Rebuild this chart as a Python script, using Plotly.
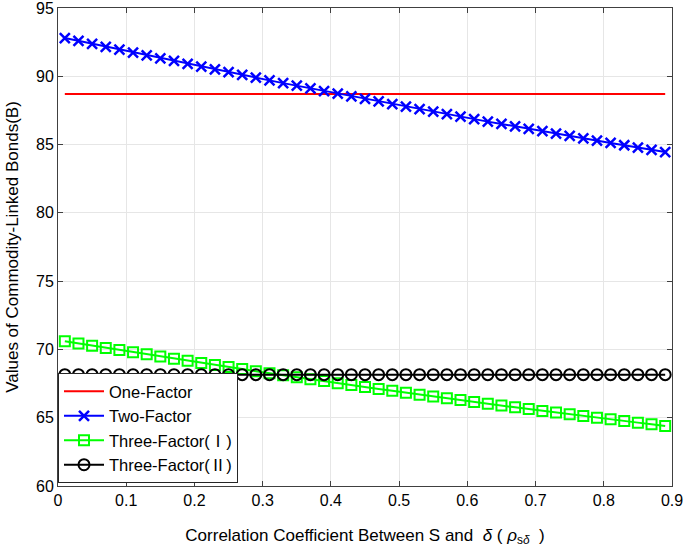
import plotly.graph_objects as go

rho = [round(0.01 + 0.02 * i, 2) for i in range(45)]

one_factor = [88.7] * 45
two_factor = [92.80, 92.59, 92.37, 92.16, 91.95, 91.74, 91.53, 91.32, 91.12, 90.91,
              90.71, 90.50, 90.30, 90.10, 89.90, 89.70, 89.50, 89.31, 89.11, 88.92,
              88.73, 88.53, 88.34, 88.16, 87.97, 87.78, 87.59, 87.41, 87.23, 87.04,
              86.86, 86.68, 86.51, 86.33, 86.15, 85.98, 85.80, 85.63, 85.46, 85.29,
              85.12, 84.95, 84.78, 84.62, 84.45]
three_factor_1 = [70.60, 70.44, 70.27, 70.11, 69.95, 69.79, 69.64, 69.48, 69.32, 69.17,
                  69.01, 68.86, 68.71, 68.56, 68.41, 68.26, 68.11, 67.97, 67.82, 67.68,
                  67.53, 67.39, 67.25, 67.11, 66.97, 66.83, 66.69, 66.56, 66.42, 66.29,
                  66.15, 66.02, 65.89, 65.76, 65.63, 65.50, 65.38, 65.25, 65.13, 65.00,
                  64.88, 64.76, 64.64, 64.52, 64.40]
three_factor_2 = [68.15] * 45

CJK = "<span style=\"font-family:'Noto Sans CJK SC'\">"
names = ["One-Factor", "Two-Factor",
         "Three-Factor(" + CJK + "Ⅰ</span>)",
         "Three-Factor(" + CJK + "Ⅱ</span>)"]
x_ticks = [0, 0.1, 0.2, 0.3, 0.4, 0.5, 0.6, 0.7, 0.8, 0.9]
y_ticks = [60, 65, 70, 75, 80, 85, 90, 95]

FONT = "Liberation Sans, Arial, sans-serif"

fig = go.Figure()
fig.add_trace(go.Scatter(x=rho, y=one_factor, mode="lines", name=names[0],
                         line=dict(color="#ff0000", width=2)))
fig.add_trace(go.Scatter(x=rho, y=two_factor, mode="lines+markers", name=names[1],
                         line=dict(color="#0000ff", width=2),
                         marker=dict(symbol="x-thin-open", size=10, color="#0000ff",
                                     line=dict(color="#0000ff", width=2.5))))
fig.add_trace(go.Scatter(x=rho, y=three_factor_1, mode="lines+markers", name=names[2],
                         line=dict(color="#00ff00", width=2),
                         marker=dict(symbol="square-open", size=10, color="#00ff00",
                                     line=dict(color="#00ff00", width=2))))
fig.add_trace(go.Scatter(x=rho, y=three_factor_2, mode="lines+markers", name=names[3],
                         line=dict(color="#000000", width=2),
                         marker=dict(symbol="circle-open", size=11, color="#000000",
                                     line=dict(color="#000000", width=2))))

fig.update_layout(
    width=685, height=560,
    margin=dict(l=58, r=13, t=8, b=74),
    paper_bgcolor="white", plot_bgcolor="white",
    font=dict(family=FONT, size=16, color="#262626"),
    showlegend=True,
    legend=dict(x=0, y=0.006, xanchor="left", yanchor="bottom",
                bgcolor="white", bordercolor="#262626", borderwidth=1,
                font=dict(family=FONT, size=16.5, color="#000000"),
                tracegroupgap=0, itemwidth=40),
)
fig.update_xaxes(
    range=[0, 0.9], tickvals=x_ticks, ticktext=[str(v) for v in x_ticks],
    automargin=False, ticklabeloverflow="allow",
    showgrid=True, gridcolor="#e6e6e6", gridwidth=1,
    showline=True, linecolor="#404040", linewidth=1, mirror="ticks",
    ticks="inside", ticklen=5, tickcolor="#404040",
    zeroline=False,
    tickfont=dict(family=FONT, size=16, color="#000000"),
    title=dict(text="Correlation Coefficient Between S and  <i>δ</i> ( <i>ρ</i><sub>s<i>δ</i></sub>  )",
               font=dict(family=FONT, size=17, color="#000000"), standoff=20),
)
fig.update_yaxes(
    range=[60, 95], tickvals=y_ticks,
    automargin=False, ticklabeloverflow="allow",
    showgrid=True, gridcolor="#e6e6e6", gridwidth=1,
    showline=True, linecolor="#404040", linewidth=1, mirror="ticks",
    ticks="inside", ticklen=5, tickcolor="#404040",
    zeroline=False,
    tickfont=dict(family=FONT, size=16, color="#000000"),
    title=dict(text="Values of Commodity-Linked Bonds(B)",
               font=dict(family=FONT, size=17, color="#000000"), standoff=13),
)

fig.write_html("out.html", config={"displayModeBar": False},
               post_script="document.body.style.margin='0';")
